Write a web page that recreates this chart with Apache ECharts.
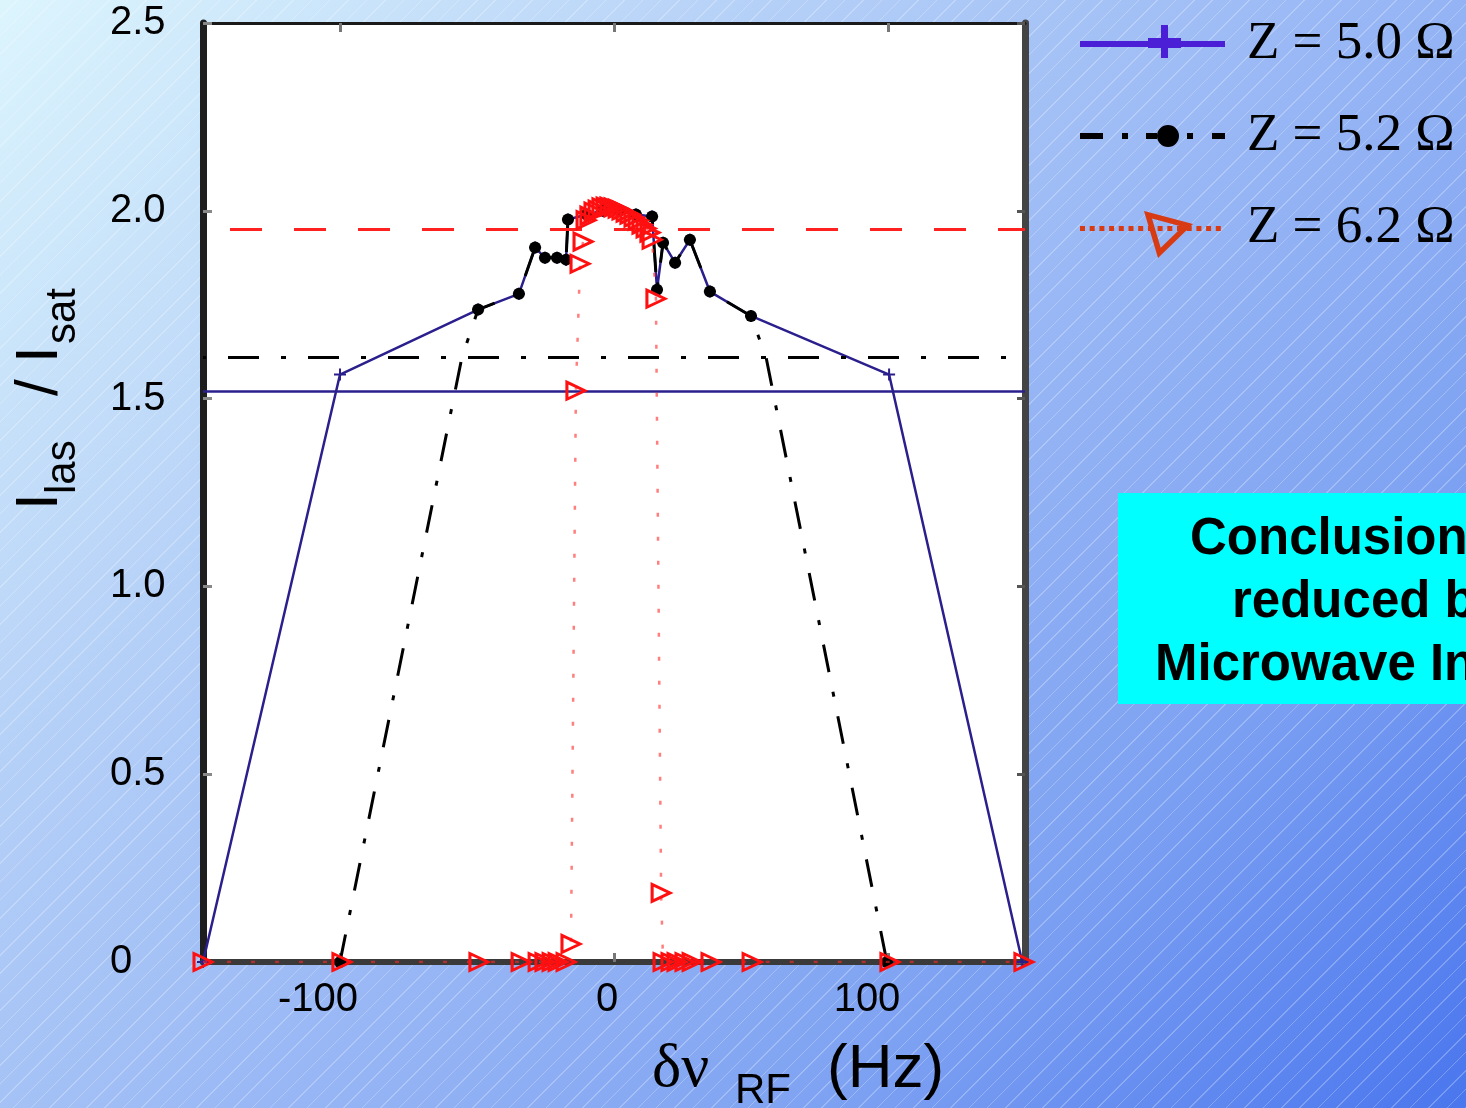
<!DOCTYPE html>
<html><head><meta charset="utf-8">
<script src="https://cdn.jsdelivr.net/npm/echarts@6/dist/echarts.min.js"></script>
<style>
html,body{margin:0;padding:0;overflow:hidden;}
#chart{width:1466px;height:1108px;
background:
 repeating-linear-gradient(135deg, rgba(255,255,255,0) 0px, rgba(255,255,255,0) 12px, rgba(255,255,255,0.25) 12px, rgba(255,255,255,0.25) 13px),
 linear-gradient(135deg, #dcf5fd 0%, #b5d0f7 30%, #9ab8f5 52%, #7ea2f2 75%, #4a76ee 100%);}
</style></head><body><div id="chart"></div>
<script>
// ---- data ----
const seriesNames = ['Z = 5.0 Ω', 'Z = 5.2 Ω', 'Z = 6.2 Ω'];
const xTickValues = [-100, 0, 100];
const yTickValues = [0, 0.5, 1.0, 1.5, 2.0, 2.5];
const thresholdValues = [1.524, 1.609, 1.95];

const z50X = [-150, -100, -49.6, -34.7, -28.8, -25.2, -20.8, -17.5, -16.8, -10, -4, 2, 8, 13.9, 15.7, 17.9, 22.3, 27.7, 35.0, 50.0, 100.4, 149];
const z50Y = [0, 1.564, 1.737, 1.779, 1.902, 1.875, 1.875, 1.87, 1.977, 1.99, 2.0, 2.0, 1.99, 1.985, 1.79, 1.915, 1.862, 1.923, 1.785, 1.72, 1.564, 0];

const z52X = [-100, -55.5, -49.6, -34.7, -28.8, -25.2, -20.8, -17.5, -16.8, -10, -4, 2, 8, 13.9, 15.7, 17.9, 22.3, 27.7, 35.0, 50.0, 55.5, 99.6];
const z52Y = [0, 1.61, 1.737, 1.779, 1.902, 1.875, 1.875, 1.87, 1.977, 1.99, 2.0, 2.0, 1.99, 1.985, 1.79, 1.915, 1.862, 1.923, 1.785, 1.72, 1.61, 0];

const z62X = [-150, -99.3, -49.3, -33.9, -27.7, -25.2, -22.6, -20.4, -17.5, -15.7, -13.9, -12.4, -11.3,
  -10.2, -8.8, -7.3, -5.8, -4.4, -2.9, -1.5, 0, 1.5, 2.9, 4.4, 5.8, 7.3, 8.8, 10.2, 11.7, 13.1,
  13.9, 15.3, 17.2, 17.9, 20.8, 23.0, 25.9, 28.5, 35.4, 50.4, 100.7, 149.6];
const z62Y = [0, 0, 0, 0, 0, 0, 0, 0, 0, 0.048, 1.521, 1.859, 1.918,
  1.975, 1.987, 1.998, 2.003, 2.009, 2.011, 2.011, 2.009, 2.006, 2.001, 1.995, 1.990, 1.982, 1.974, 1.963, 1.953, 1.942,
  1.923, 1.766, 0.184, 0, 0, 0, 0, 0, 0, 0, 0, 0];

const zip = (xs, ys) => xs.map((x, i) => [x, ys[i]]);

// ---- legend icons (drawn in a 145x60 frame) ----
function rect(x, y, w, h) { return 'M' + x + ',' + y + 'H' + (x + w) + 'V' + (y + h) + 'H' + x + 'Z'; }
function rectRev(x, y, w, h) { return 'M' + x + ',' + y + 'V' + (y + h) + 'H' + (x + w) + 'V' + y + 'Z'; }
const frame = 'M0,0M145,60';
const iconBlue = 'path://' + frame + rect(0, 27, 145, 6) + rect(68, 24, 33, 10) + rect(81, 11, 7, 33);
const iconBlack = 'path://' + frame + rect(0, 27, 23, 6) + rect(42, 27, 6, 6) + rect(66, 27, 11, 6) +
  'M77,30A11,11 0 1,1 99,30A11,11 0 1,1 77,30Z' + rect(107, 27, 6, 6) + rect(132, 27, 13, 6);
let redDots = '';
for (let x = 0; x < 141; x += 9.7) redDots += rectRev(+x.toFixed(1), 28, 5, 5);
const iconRed = 'path://' + frame + redDots + 'M64,13L78,60L113,26Z' + 'M72,20.6L102.4,28.7L80.7,49.7Z';

const plusPath = 'path://M-1,-6H1V6H-1Z M-6,-1H-1V1H-6Z M1,-1H6V1H1Z';
const z52NoMarker = [1, 20];

const chart = echarts.init(document.getElementById('chart'), null, { renderer: 'canvas' });

const xRich = {
  a: { fontSize: 40, lineHeight: 40, fontFamily: 'Liberation Sans', color: '#000', padding: [0, 44, 0, 0] },
  b: { fontSize: 40, lineHeight: 40, fontFamily: 'Liberation Sans', color: '#000', padding: [0, 14, 0, 0] },
  c: { fontSize: 40, lineHeight: 40, fontFamily: 'Liberation Sans', color: '#000', padding: [0, 42, 0, 0] }
};

const option = {
  backgroundColor: 'transparent',
  animation: false,
  grid: { left: 203, right: 441, top: 23, bottom: 146, show: true, backgroundColor: '#ffffff', borderWidth: 0 },
  legend: {
    orient: 'vertical', left: 1080, top: 14, itemWidth: 145, itemHeight: 60, itemGap: 32, padding: 0,
    selectedMode: false,
    textStyle: { fontFamily: 'Liberation Serif', fontSize: 53, color: '#000', padding: [0, 0, 0, 17] },
    data: [
      { name: seriesNames[0], icon: iconBlue, itemStyle: { color: '#4a1fd6', borderWidth: 0 } },
      { name: seriesNames[1], icon: iconBlack, itemStyle: { color: '#000000', borderWidth: 0 } },
      { name: seriesNames[2], icon: iconRed, itemStyle: { color: '#d83a12', borderWidth: 0 } }
    ]
  },
  xAxis: [
    {
      type: 'value', min: -150, max: 150, position: 'bottom',
      axisLine: { onZero: false, lineStyle: { color: '#3a3a3a', width: 6 } },
      axisTick: { show: true, inside: true, length: 9, customValues: xTickValues, lineStyle: { color: '#777', width: 3 } },
      axisLabel: {
        customValues: xTickValues, margin: 18,
        formatter: (v) => { const k = v < 0 ? 'a' : (v === 0 ? 'b' : 'c'); return '{' + k + '|' + v + '}'; },
        rich: xRich
      },
      splitLine: { show: false }
    },
    {
      type: 'value', min: -150, max: 150, position: 'top',
      axisLine: { onZero: false, lineStyle: { color: '#1a1a1a', width: 3 } },
      axisTick: { show: true, inside: true, length: 9, customValues: xTickValues, lineStyle: { color: '#777', width: 3 } },
      axisLabel: { show: false },
      splitLine: { show: false }
    }
  ],
  yAxis: [
    {
      type: 'value', min: 0, max: 2.5, interval: 0.5, position: 'left',
      axisLine: { show: true, onZero: false, lineStyle: { color: '#1e1e1e', width: 7 } },
      axisTick: { show: true, inside: true, length: 9, customValues: yTickValues, lineStyle: { color: '#888', width: 3 } },
      axisLabel: {
        customValues: yTickValues, margin: 93, align: 'left', fontSize: 40, fontFamily: 'Liberation Sans', color: '#000',
        formatter: (v) => v === 0 ? '0' : v.toFixed(1)
      },
      splitLine: { show: false }
    },
    {
      type: 'value', min: 0, max: 2.5, interval: 0.5, position: 'right',
      axisLine: { show: true, onZero: false, lineStyle: { color: '#444', width: 7 } },
      axisTick: { show: true, inside: true, length: 8, customValues: yTickValues, lineStyle: { color: '#555', width: 3 } },
      axisLabel: { show: false },
      splitLine: { show: false }
    }
  ],
  series: [
    {
      name: seriesNames[0], type: 'line', data: zip(z50X, z50Y),
      symbol: plusPath, symbolSize: 12, showAllSymbol: true,
      itemStyle: { color: '#2a1f8c' },
      lineStyle: { color: '#2a1f8c', width: 2.5 },
      markLine: {
        silent: true, symbol: ['none', 'none'], label: { show: false }, animation: false,
        lineStyle: { color: '#2a1f8c', width: 2.5, type: 'solid' },
        data: [{ yAxis: thresholdValues[0] }]
      },
      z: 3
    },
    {
      name: seriesNames[1], type: 'line', data: zip(z52X, z52Y),
      symbol: 'circle', showAllSymbol: true,
      symbolSize: (val, params) => z52NoMarker.includes(params.dataIndex) ? 0 : 12,
      itemStyle: { color: '#000' },
      lineStyle: { color: '#000', width: 3, type: [28, 20, 5, 20] },
      markLine: {
        silent: true, symbol: ['none', 'none'], label: { show: false }, animation: false,
        lineStyle: { color: '#000', width: 3, type: [31, 22, 5, 22], dashOffset: 55 },
        data: [{ yAxis: thresholdValues[1] }]
      },
      z: 4
    },
    {
      name: seriesNames[2], type: 'line', data: zip(z62X, z62Y),
      symbol: 'triangle', symbolRotate: -90, symbolSize: [17, 18], showAllSymbol: true,
      itemStyle: { color: 'rgba(0,0,0,0)', borderColor: '#ff1010', borderWidth: 3 },
      lineStyle: { color: 'rgba(255,40,40,0.6)', width: 2.5, type: [4, 20] },
      markLine: {
        silent: true, symbol: ['none', 'none'], label: { show: false }, animation: false,
        lineStyle: { color: '#ff2020', width: 3, type: [32, 32], dashOffset: 37 },
        data: [{ yAxis: thresholdValues[2] }]
      },
      z: 5
    }
  ],
  graphic: [
    {
      type: 'group', x: 0, y: 510, rotation: Math.PI / 2,
      children: [
        { type: 'text', x: 0, y: 40, style: { text: 'I', fontSize: 60, fontFamily: 'Liberation Sans', fill: '#000', align: 'left', verticalAlign: 'middle' } },
        { type: 'text', x: 16, y: 63, style: { text: 'las', fontSize: 42, fontFamily: 'Liberation Sans', fill: '#000', align: 'left', verticalAlign: 'middle' } },
        { type: 'text', x: 114, y: 40, style: { text: '/', fontSize: 60, fontFamily: 'Liberation Sans', fill: '#000', align: 'left', verticalAlign: 'middle' } },
        { type: 'text', x: 147, y: 40, style: { text: 'I', fontSize: 60, fontFamily: 'Liberation Sans', fill: '#000', align: 'left', verticalAlign: 'middle' } },
        { type: 'text', x: 166, y: 63, style: { text: 'sat', fontSize: 42, fontFamily: 'Liberation Sans', fill: '#000', align: 'left', verticalAlign: 'middle' } }
      ]
    },
    { type: 'text', x: 652, y: 1070, style: { text: 'δν', fontSize: 62, fontFamily: 'Liberation Serif', fill: '#000', align: 'left', verticalAlign: 'middle' } },
    { type: 'text', x: 735, y: 1091, style: { text: 'RF', fontSize: 42, fontFamily: 'Liberation Sans', fill: '#000', align: 'left', verticalAlign: 'middle' } },
    { type: 'text', x: 827, y: 1070, style: { text: '(Hz)', fontSize: 62, fontFamily: 'Liberation Sans', fill: '#000', align: 'left', verticalAlign: 'middle' } },
    { type: 'rect', shape: { x: 1118, y: 493, width: 360, height: 211 }, style: { fill: '#00ffff' } },
    { type: 'text', x: 1190, y: 540, style: { text: 'Conclusion', fontSize: 51, fontWeight: 'bold', fontFamily: 'Liberation Sans', fill: '#000', align: 'left', verticalAlign: 'middle' } },
    { type: 'text', x: 1232, y: 603, style: { text: 'reduced b', fontSize: 51, fontWeight: 'bold', fontFamily: 'Liberation Sans', fill: '#000', align: 'left', verticalAlign: 'middle' } },
    { type: 'text', x: 1155, y: 666, style: { text: 'Microwave In', fontSize: 51, fontWeight: 'bold', fontFamily: 'Liberation Sans', fill: '#000', align: 'left', verticalAlign: 'middle' } }
  ]
};
chart.setOption(option);
</script></body></html>
